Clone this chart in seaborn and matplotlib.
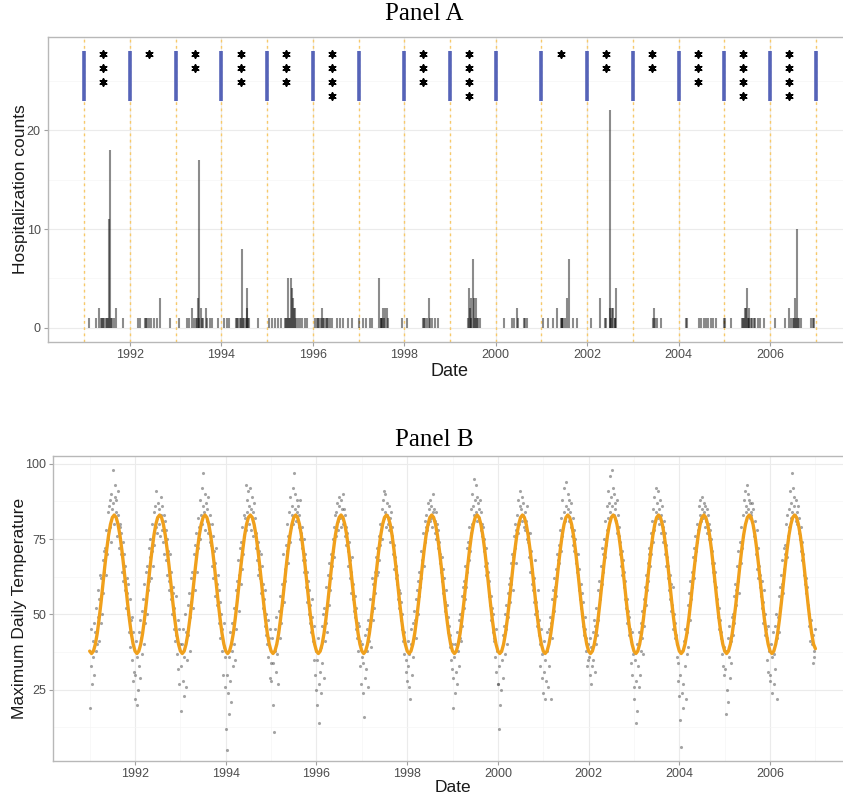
import matplotlib
matplotlib.use("Agg")
import matplotlib.pyplot as plt
import seaborn as sns
import pandas as pd

# ---- data ----
years = list(range(1991, 2007))
year_bounds = list(range(1991, 2008))
star_counts = [3, 1, 2, 3, 3, 4, 0, 3, 4, 0, 1, 2, 2, 3, 4, 4]

# hospitalization events (decimal year, count)
hosp_dates = [
    1991.11, 1991.25, 1991.32, 1991.36, 1991.39, 1991.42, 1991.44, 1991.47, 1991.49, 1991.52, 1991.54, 1991.56, 1991.58, 1991.61, 1991.64, 1991.70, 1991.84,
    1992.18, 1992.22, 1992.33, 1992.36, 1992.38, 1992.41, 1992.47, 1992.52, 1992.58, 1992.65, 1992.88,
    1993.07, 1993.24, 1993.28, 1993.35, 1993.40, 1993.44, 1993.46, 1993.48, 1993.50, 1993.52, 1993.55, 1993.57, 1993.59, 1993.66, 1993.69, 1993.75, 1993.79, 1993.93,
    1994.06, 1994.12, 1994.17, 1994.32, 1994.35, 1994.37, 1994.40, 1994.43, 1994.45, 1994.47, 1994.50, 1994.53, 1994.55, 1994.57, 1994.59, 1994.61, 1994.81,
    1995.03, 1995.10, 1995.17, 1995.24, 1995.31, 1995.39, 1995.42, 1995.44, 1995.46, 1995.48, 1995.50, 1995.52, 1995.55, 1995.56, 1995.58, 1995.60, 1995.63, 1995.67, 1995.72, 1995.77, 1995.83, 1995.88,
    1996.05, 1996.08, 1996.11, 1996.14, 1996.17, 1996.19, 1996.22, 1996.25, 1996.28, 1996.31, 1996.34, 1996.38, 1996.42, 1996.52, 1996.59, 1996.66, 1996.77, 1996.85,
    1997.02, 1997.10, 1997.17, 1997.24, 1997.30, 1997.45, 1997.48, 1997.50, 1997.52, 1997.54, 1997.56, 1997.58, 1997.62, 1997.65, 1997.95,
    1998.06, 1998.41, 1998.44, 1998.46, 1998.50, 1998.53, 1998.57, 1998.60, 1998.67, 1998.74,
    1999.39, 1999.41, 1999.43, 1999.45, 1999.47, 1999.50, 1999.52, 1999.54, 1999.56, 1999.59, 1999.62, 1999.66,
    2000.19, 2000.35, 2000.40, 2000.46, 2000.48, 2000.61, 2000.64, 2000.68,
    2001.04, 2001.15, 2001.25, 2001.34, 2001.42, 2001.44, 2001.46, 2001.48, 2001.51, 2001.55, 2001.61, 2001.69, 2001.77,
    2002.09, 2002.29, 2002.38, 2002.41, 2002.49, 2002.50, 2002.52, 2002.54, 2002.57, 2002.60, 2002.61, 2002.63,
    2003.43, 2003.47, 2003.49, 2003.53, 2003.61,
    2004.17, 2004.19, 2004.45, 2004.49, 2004.55, 2004.60, 2004.65, 2004.70, 2004.76, 2004.81,
    2005.00, 2005.01, 2005.15, 2005.38, 2005.41, 2005.43, 2005.45, 2005.47, 2005.49, 2005.51, 2005.53, 2005.55, 2005.58, 2005.61, 2005.64, 2005.68, 2005.73, 2005.79, 2005.86,
    2006.10, 2006.32, 2006.42, 2006.46, 2006.50, 2006.53, 2006.55, 2006.57, 2006.59, 2006.61, 2006.63, 2006.68, 2006.90, 2006.93, 2006.96,
]
hosp_counts = [
    1, 1, 2, 1, 1, 1, 1, 1, 1, 1, 11, 18, 1, 1, 1, 2, 1,
    1, 1, 1, 1, 1, 1, 1, 1, 1, 3, 1,
    1, 1, 1, 2, 1, 1, 1, 3, 1, 17, 2, 1, 1, 2, 1, 1, 1, 1,
    1, 1, 1, 1, 1, 1, 1, 1, 8, 1, 1, 1, 4, 2, 1, 1, 1,
    1, 1, 1, 1, 1, 1, 1, 1, 5, 1, 1, 5, 4, 3, 2, 2, 1, 1, 1, 1, 1, 1,
    1, 1, 1, 1, 1, 2, 1, 1, 1, 1, 1, 1, 1, 1, 1, 1, 1, 1,
    1, 1, 1, 1, 1, 5, 1, 1, 1, 2, 1, 2, 2, 1, 1,
    1, 1, 1, 1, 1, 3, 1, 1, 1, 1,
    1, 4, 2, 1, 3, 7, 3, 1, 3, 1, 1, 1,
    1, 1, 1, 2, 1, 1, 1, 1,
    1, 1, 1, 2, 1, 1, 1, 1, 1, 3, 7, 1, 1,
    1, 3, 1, 1, 2, 22, 1, 2, 2, 1, 1, 4,
    1, 2, 1, 1, 1,
    1, 1, 1, 1, 1, 1, 1, 1, 1, 1,
    1, 1, 1, 1, 1, 1, 2, 2, 4, 1, 2, 1, 1, 1, 1, 1, 1, 1, 1,
    1, 1, 2, 1, 1, 1, 3, 1, 10, 1, 1, 1, 1, 1, 1,
]

# fitted seasonal curve, one value every half month (identical each year)
fit_profile = [37.8, 37.0, 37.8, 40.1, 43.7, 48.5, 54.0, 60.0, 66.0, 71.5, 76.3, 79.9,
               82.2, 83.0, 82.2, 79.9, 76.3, 71.5, 66.0, 60.0, 54.0, 48.5, 43.7, 40.1]
fit_end = 38.6

# maximum daily temperature, six readings per month
temp_1991 = [19, 45, 33, 27, 41, 36, 47, 30, 44, 38, 52, 40,
             49, 58, 41, 55, 63, 47, 62, 50, 68, 57, 71, 64,
             72, 63, 78, 70, 84, 75, 86, 79, 88, 74, 90, 85,
             98, 87, 80, 93, 89, 84, 88, 76, 91, 83, 72, 80,
             79, 70, 77, 64, 74, 61, 70, 58, 66, 52, 62, 57,
             50, 60, 44, 55, 39, 48, 35, 49, 28, 44, 31, 22]
temp_1992 = [30, 41, 20, 36, 25, 44, 33, 48, 29, 42, 51, 37,
             55, 40, 60, 47, 52, 64, 50, 66, 58, 72, 61, 69,
             75, 62, 80, 71, 66, 84, 73, 86, 79, 91, 82, 77,
             87, 80, 85, 76, 89, 83, 78, 86, 74, 83, 70, 81,
             68, 78, 63, 75, 71, 58, 61, 70, 55, 64, 50, 59,
             57, 45, 52, 41, 56, 43, 37, 48, 32, 45, 27, 40]
temp_1993 = [33, 18, 40, 28, 45, 23, 36, 50, 26, 44, 35, 53,
             43, 57, 49, 38, 62, 54, 64, 52, 60, 70, 58, 73,
             69, 77, 64, 82, 72, 79, 88, 75, 83, 92, 80, 86,
             97, 84, 90, 78, 87, 81, 85, 77, 89, 80, 74, 83,
             73, 80, 66, 76, 62, 71, 67, 56, 72, 60, 53, 63,
             47, 58, 42, 54, 50, 38, 45, 30, 39, 47, 26, 36]
temp_1994 = [12, 30, 5, 24, 36, 17, 28, 44, 21, 38, 47, 33,
             40, 52, 35, 58, 45, 61, 56, 68, 51, 63, 72, 60,
             74, 65, 79, 70, 83, 76, 82, 93, 78, 88, 84, 91,
             86, 80, 92, 85, 78, 89, 84, 76, 87, 79, 82, 72,
             77, 68, 74, 63, 71, 65, 62, 70, 57, 66, 52, 60,
             55, 46, 58, 43, 50, 40, 48, 36, 42, 29, 45, 34]
temp_1995 = [28, 42, 20, 34, 11, 38, 45, 31, 49, 37, 27, 44,
             51, 42, 56, 47, 60, 53, 58, 70, 54, 65, 61, 73,
             71, 80, 67, 76, 84, 74, 89, 79, 86, 83, 92, 80,
             97, 85, 90, 81, 88, 84, 86, 79, 83, 75, 88, 77,
             72, 79, 68, 75, 64, 70, 68, 59, 64, 54, 61, 50,
             58, 47, 53, 44, 49, 55, 41, 35, 46, 30, 38, 25]
temp_1996 = [35, 20, 42, 27, 14, 31, 39, 24, 46, 34, 50, 29,
             52, 41, 47, 59, 44, 56, 63, 53, 67, 58, 70, 62,
             66, 75, 71, 79, 69, 83, 84, 76, 87, 81, 78, 89,
             86, 82, 88, 79, 85, 90, 80, 85, 76, 83, 73, 79,
             77, 71, 66, 74, 62, 68, 64, 57, 69, 55, 60, 51,
             49, 56, 45, 52, 42, 47, 38, 46, 33, 41, 27, 36]
temp_1997 = [40, 24, 34, 16, 29, 43, 32, 45, 38, 26, 48, 41,
             46, 55, 39, 51, 62, 48, 60, 52, 64, 57, 69, 63,
             72, 64, 76, 68, 80, 73, 78, 85, 75, 88, 82, 91,
             84, 90, 79, 87, 83, 80, 86, 78, 82, 74, 84, 79,
             76, 70, 73, 65, 69, 62, 66, 60, 63, 55, 58, 52,
             57, 48, 54, 45, 50, 41, 44, 37, 40, 31, 35, 28]
temp_1998 = [33, 41, 26, 37, 22, 45, 40, 30, 47, 36, 43, 51,
             48, 55, 42, 58, 50, 61, 56, 64, 59, 71, 62, 68,
             70, 77, 66, 81, 74, 79, 83, 78, 87, 80, 85, 81,
             88, 82, 86, 79, 84, 90, 85, 81, 77, 84, 75, 80,
             78, 72, 74, 67, 70, 64, 69, 61, 65, 57, 62, 54,
             51, 58, 47, 53, 44, 49, 46, 39, 43, 35, 40, 32]
temp_1999 = [29, 19, 36, 24, 40, 31, 44, 27, 38, 48, 33, 42,
             50, 41, 56, 46, 59, 52, 61, 55, 66, 59, 72, 64,
             74, 68, 79, 71, 85, 77, 90, 80, 86, 95, 83, 88,
             93, 84, 89, 81, 87, 85, 82, 88, 78, 84, 76, 80,
             79, 71, 75, 66, 72, 63, 67, 60, 64, 56, 61, 53,
             56, 48, 52, 44, 50, 41, 42, 36, 45, 31, 38, 27]
temp_2000 = [27, 12, 33, 20, 38, 25, 35, 43, 29, 46, 37, 50,
             45, 53, 40, 57, 49, 60, 62, 54, 67, 60, 70, 58,
             69, 76, 72, 80, 67, 78, 83, 77, 88, 80, 86, 91,
             85, 89, 81, 87, 83, 79, 84, 78, 81, 75, 86, 77,
             74, 69, 77, 64, 71, 60, 65, 58, 62, 54, 68, 50,
             54, 46, 51, 58, 43, 48, 40, 33, 45, 29, 37, 24]
temp_2001 = [31, 41, 22, 35, 28, 44, 38, 26, 45, 33, 49, 22,
             47, 55, 42, 58, 51, 62, 59, 65, 56, 70, 63, 68,
             73, 67, 78, 71, 82, 76, 88, 79, 84, 92, 81, 86,
             94, 83, 90, 85, 81, 88, 84, 79, 87, 76, 82, 73,
             78, 71, 75, 67, 70, 64, 63, 70, 58, 65, 55, 60,
             52, 57, 46, 54, 43, 49, 45, 38, 42, 33, 40, 35]
temp_2002 = [36, 30, 42, 27, 39, 33, 44, 35, 48, 31, 46, 40,
             52, 43, 58, 48, 61, 55, 57, 66, 60, 72, 64, 70,
             75, 69, 81, 73, 86, 78, 91, 82, 87, 96, 84, 89,
             98, 86, 92, 83, 90, 87, 85, 81, 88, 77, 83, 79,
             76, 70, 74, 66, 71, 63, 68, 59, 64, 55, 61, 52,
             55, 47, 51, 43, 49, 45, 41, 34, 44, 30, 37, 26]
temp_2003 = [22, 35, 14, 28, 40, 18, 33, 26, 44, 30, 47, 38,
             42, 51, 37, 55, 46, 59, 53, 63, 58, 67, 61, 70,
             72, 66, 77, 70, 81, 74, 85, 78, 89, 81, 84, 92,
             87, 82, 91, 85, 80, 88, 83, 77, 86, 79, 74, 81,
             77, 70, 73, 66, 69, 62, 66, 58, 63, 55, 60, 51,
             53, 59, 45, 50, 42, 47, 43, 36, 40, 28, 34, 23]
temp_2004 = [15, 30, 6, 24, 38, 19, 27, 41, 33, 45, 22, 37,
             44, 53, 39, 57, 48, 61, 55, 64, 59, 69, 62, 72,
             68, 76, 71, 80, 74, 78, 86, 79, 83, 88, 81, 85,
             89, 82, 87, 84, 79, 86, 81, 85, 77, 83, 75, 80,
             78, 72, 75, 67, 71, 64, 67, 61, 64, 56, 59, 53,
             55, 49, 52, 45, 48, 42, 44, 37, 41, 33, 39, 30]
temp_2005 = [32, 17, 38, 25, 42, 21, 36, 46, 29, 41, 34, 49,
             50, 43, 56, 47, 60, 53, 58, 66, 61, 71, 57, 68,
             74, 67, 79, 72, 83, 76, 88, 80, 91, 84, 86, 93,
             90, 85, 88, 82, 87, 84, 83, 87, 79, 85, 76, 81,
             75, 70, 78, 65, 72, 62, 66, 59, 63, 56, 61, 52,
             54, 47, 58, 43, 50, 45, 42, 35, 46, 31, 38, 28]
temp_2006 = [30, 40, 24, 36, 44, 27, 37, 46, 32, 50, 22, 42,
             49, 56, 44, 59, 52, 63, 60, 68, 57, 72, 65, 70,
             73, 80, 69, 83, 76, 79, 85, 91, 82, 87, 97, 84,
             92, 86, 89, 83, 88, 81, 84, 80, 86, 77, 82, 75,
             79, 71, 74, 68, 70, 63, 65, 60, 62, 57, 59, 53,
             52, 46, 50, 41, 48, 44, 40, 34, 43, 36, 38, 45]

temps = [temp_1991, temp_1992, temp_1993, temp_1994, temp_1995, temp_1996,
         temp_1997, temp_1998, temp_1999, temp_2000, temp_2001, temp_2002,
         temp_2003, temp_2004, temp_2005, temp_2006]

# ---- tables ----
df_hosp = pd.DataFrame({"Date": hosp_dates, "Count": hosp_counts})

rows = []
for yr, vals in zip(years, temps):
    n = len(vals)
    for i, v in enumerate(vals):
        rows.append({"Date": yr + (i + 0.5) / n, "Temp": v})
df_temp = pd.DataFrame(rows)

fit_dates = [yr + k / len(fit_profile) for yr in years for k in range(len(fit_profile))] + [year_bounds[-1]]
fit_vals = fit_profile * len(years) + [fit_end]
df_fit = pd.DataFrame({"Date": fit_dates, "Fit": fit_vals})

# ---- styling ----
sns.set_theme(style="white")
plt.rcParams["font.family"] = ["Liberation Sans", "DejaVu Sans"]

W, H = 843, 794
fig = plt.figure(figsize=(W / 100, H / 100), dpi=100)

def px_axes(left, top, right, bottom):
    return fig.add_axes([left / W, 1 - bottom / H, (right - left) / W, (bottom - top) / H])

def style_axes(ax, yticks, yminor):
    ax.set_facecolor("white")
    for sp in ax.spines.values():
        sp.set_color("#b8b8b8")
        sp.set_linewidth(1.0)
    ax.set_xlim(1990.2, 2007.8)
    ax.set_xticks(range(1992, 2007, 2))
    ax.set_xticks(range(1991, 2008, 2), minor=True)
    ax.set_yticks(yticks)
    ax.set_yticks(yminor, minor=True)
    ax.grid(True, which="major", color="#ebebeb", lw=0.8)
    ax.grid(True, which="minor", color="#f5f5f5", lw=0.5)
    ax.set_axisbelow(True)
    ax.tick_params(axis="both", which="major", length=3, width=0.8, color="#a0a0a0",
                   labelsize=9, labelcolor="#4d4d4d", pad=2, bottom=True, left=True)
    ax.tick_params(which="minor", length=0)

# ---- Panel A ----
axA = px_axes(47.7, 37.3, 852.3, 341.7)
style_axes(axA, [0, 10, 20], [5, 15, 25])
axA.set_ylim(-1.4, 29.4)

for b in year_bounds:
    axA.axvline(b, color="#f7c96a", lw=1.0, ls=(0, (2, 2.5)), zorder=1)

axA.vlines(df_hosp["Date"], 0, df_hosp["Count"], color="black", alpha=0.45, lw=1.5, zorder=2)
axA.vlines(year_bounds, 23, 28, color="#5563b8", lw=2.6, zorder=3)

star_x, star_y = [], []
for yr, n in zip(years, star_counts):
    for k in range(n):
        star_x.append(yr + 0.42)
        star_y.append(27.7 - 1.4 * k)
sns.scatterplot(x=star_x, y=star_y, marker=(6, 2, 0), s=24, color="black",
                linewidth=1.3, edgecolor="black", ax=axA, zorder=4)

axA.set_xlabel("Date", fontsize=13, color="#1a1a1a", labelpad=2)
axA.set_ylabel("Hospitalization counts", fontsize=12.5, color="#1a1a1a", labelpad=-1)

# ---- Panel B ----
axB = px_axes(53.4, 456.0, 851.7, 760.7)
style_axes(axB, [25, 50, 75, 100], [12.5, 37.5, 62.5, 87.5])
axB.set_ylim(1.4, 102.6)

sns.scatterplot(data=df_temp, x="Date", y="Temp", s=5, color="#4a4a4a", alpha=0.5,
                linewidth=0, ax=axB, zorder=2)
sns.lineplot(data=df_fit, x="Date", y="Fit", color="#f0a01c", lw=2.4, ax=axB, zorder=3)

axB.set_xlim(1990.2, 2007.8)
axB.set_xlabel("Date", fontsize=12.5, color="#1a1a1a", labelpad=0)
axB.set_ylabel("Maximum Daily Temperature", fontsize=12.5, color="#1a1a1a", labelpad=-1)

# ---- panel titles ----
fig.text(424 / W, 1 - 14 / H, "Panel A", ha="center", va="center", fontsize=18,
         family="Liberation Serif", color="black")
fig.text(434 / W, 1 - 440 / H, "Panel B", ha="center", va="center", fontsize=18,
         family="Liberation Serif", color="black")

fig.savefig("out.png", dpi=100, facecolor="white")
plt.close(fig)
